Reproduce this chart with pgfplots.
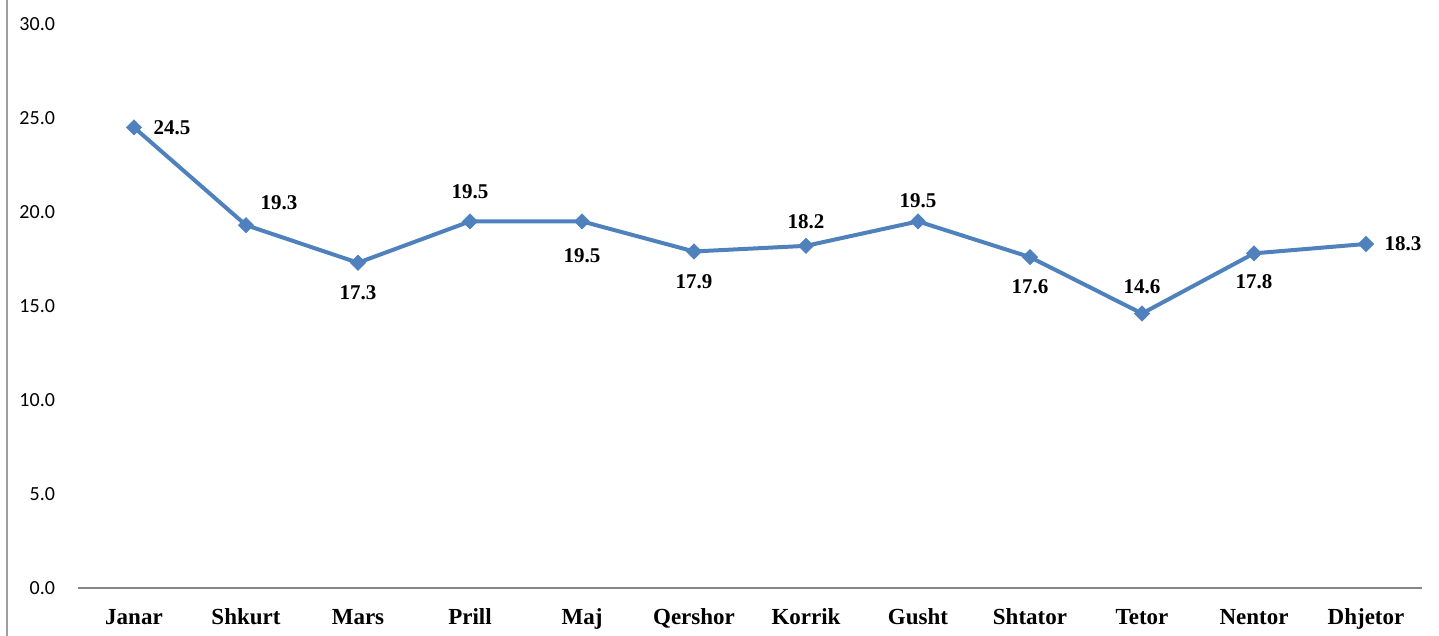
\documentclass[border=0pt]{standalone}
\usepackage{fontspec}
\setmainfont{Liberation Serif}
\newfontfamily\carlito{Carlito}
\usepackage{pgfplots}
\pgfplotsset{compat=1.18}
\definecolor{lineblue}{RGB}{79,129,189}
\definecolor{axgray}{RGB}{134,134,134}
\pgfplotstableread{
x y dx dy
0 24.5 19 0
1 19.3 16.5 11
2 17.3 0 -15
3 19.5 0 15
4 19.5 0 -17
5 17.9 0 -15
6 18.2 0 12
7 19.5 0 10.5
8 17.6 0 -15
9 14.6 0 13.5
10 17.8 0 -14
11 18.3 18.5 0
}\datatable
\begin{document}
\begin{tikzpicture}[x=1pt,y=1pt]
\path[use as bounding box] (-39,-24) rectangle (680.5,294);
\draw[axgray!80, line width=1pt] (-35.5,-24) -- (-35.5,294);
\begin{axis}[
  at={(0,0)}, anchor=south west,
  scale only axis, width=672pt, height=282pt,
  xmin=-0.5, xmax=11.5, ymin=0, ymax=30,
  axis x line*=bottom, axis y line*=left,
  y axis line style={draw=none},
  x axis line style={axgray, line width=0.75pt},
  tick style={draw=none},
  clip=false,
  /pgf/number format/assume math mode=true,
  ytick={0,5,...,30},
  yticklabel style={font=\carlito\fontsize{10}{12}\selectfont, anchor=east, xshift=-8pt,
    /pgf/number format/fixed, /pgf/number format/fixed zerofill, /pgf/number format/precision=1},
  xtick={0,...,11},
  xticklabels={Janar,Shkurt,Mars,Prill,Maj,Qershor,Korrik,Gusht,Shtator,Tetor,Nentor,Dhjetor},
  xticklabel style={font=\bfseries\fontsize{11.5}{13}\selectfont, anchor=base, yshift=-18.5pt},
]
\addplot[lineblue, line width=2pt, mark=square*, mark size=2.7pt,
  mark options={fill=lineblue, draw=lineblue, line width=0.3pt, rotate=45},
  point meta=explicit,
  visualization depends on={\thisrow{dx} \as \dx},
  visualization depends on={\thisrow{dy} \as \dy},
  nodes near coords={\pgfmathprintnumber[fixed,fixed zerofill,precision=1]{\pgfplotspointmeta}},
  every node near coord/.append style={anchor=center, xshift=\dx pt, yshift=\dy pt,
    font=\bfseries\fontsize{10.5}{12}\selectfont, text=black},
] table[x=x, y=y, meta=y] {\datatable};
\end{axis}
\end{tikzpicture}
\end{document}
